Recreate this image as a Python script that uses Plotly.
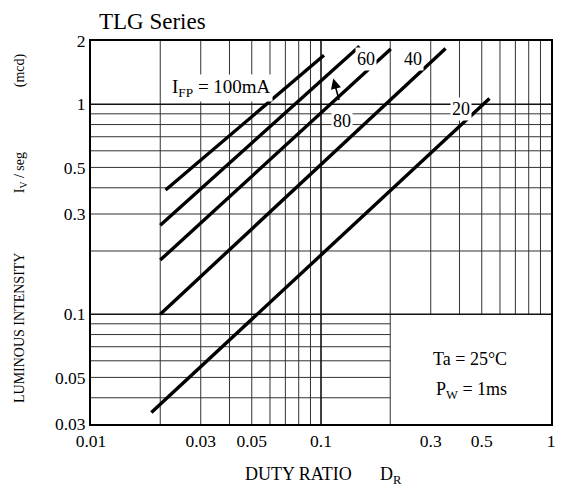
import math
import plotly.graph_objects as go

# ---------------- data ----------------
currents = ["100", "80", "60", "40", "20"]          # I_FP (mA)
duty_start = [0.0211, 0.0200, 0.0200, 0.0200, 0.0183]
duty_end = [0.103, 0.147, 0.201, 0.348, 0.540]
iv_start = [0.390, 0.265, 0.181, 0.100, 0.0340]
iv_end = [1.71, 1.89, 1.83, 1.84, 1.064]

x_tick_vals = [0.01, 0.03, 0.05, 0.1, 0.3, 0.5, 1]
x_tick_text = ["0.01", "0.03", "0.05", "0.1", "0.3", "0.5", "1"]
y_tick_vals = [0.03, 0.05, 0.1, 0.3, 0.5, 1, 2]
y_tick_text = ["0.03", "0.05", "0.1", "0.3", "0.5", "1", "2"]

# grid definition
x_grid_full = [0.02, 0.03, 0.04, 0.05, 0.06, 0.07, 0.08, 0.09, 0.2]
x_grid_upper = [0.3, 0.4, 0.5, 0.6, 0.7, 0.8, 0.9]
x_grid_major = [0.1]
y_grid_full = [0.2, 0.3, 0.4, 0.5, 0.6, 0.7, 0.8, 0.9]
y_grid_left = [0.04, 0.05, 0.06, 0.07, 0.08, 0.09]
y_grid_major = [0.1, 1]

X_MIN, X_MAX = 0.01, 1.0
Y_MIN, Y_MAX = 0.03, 2.0

FONT = "Liberation Serif, Times New Roman, serif"


def segs_v(xs, y0, y1):
    px, py = [], []
    for v in xs:
        px += [v, v, None]
        py += [y0, y1, None]
    return px, py


def segs_h(ys, x0, x1):
    px, py = [], []
    for v in ys:
        px += [x0, x1, None]
        py += [v, v, None]
    return px, py


fig = go.Figure()

grid_minor = [
    segs_v(x_grid_full, Y_MIN, Y_MAX),
    segs_v(x_grid_upper, 0.1, Y_MAX),
    segs_h(y_grid_full, X_MIN, X_MAX),
    segs_h(y_grid_left, X_MIN, 0.2),
]
gx, gy = [], []
for a, b in grid_minor:
    gx += a
    gy += b
fig.add_trace(go.Scatter(x=gx, y=gy, mode="lines",
                         line=dict(color="#333333", width=1),
                         hoverinfo="skip", showlegend=False))

mx, my = [], []
for a, b in [segs_v(x_grid_major, Y_MIN, Y_MAX), segs_h(y_grid_major, X_MIN, X_MAX)]:
    mx += a
    my += b
fig.add_trace(go.Scatter(x=mx, y=my, mode="lines",
                         line=dict(color="#111111", width=1.6),
                         hoverinfo="skip", showlegend=False))

for name, xs, xe, ys, ye in zip(currents, duty_start, duty_end, iv_start, iv_end):
    fig.add_trace(go.Scatter(x=[xs, xe], y=[ys, ye], mode="lines",
                             name=name + " mA",
                             line=dict(color="black", width=3.4),
                             hoverinfo="skip", showlegend=False))

L = math.log10


def ann(text, x, y, size=18, **kw):
    d = dict(text=text, x=L(x), y=L(y), xref="x", yref="y", showarrow=False,
             font=dict(family=FONT, size=size, color="black"),
             bgcolor="white", borderpad=1)
    d.update(kw)
    fig.add_annotation(**d)


ann("I<sub>FP</sub> = 100mA", 0.0371, 1.19, size=19)
ann("60", 0.157, 1.647)
ann("40", 0.250, 1.647)
ann("20", 0.406, 0.952)
ann("80", 0.124, 0.834)
ann("Ta = 25°C", 0.4444, 0.0614, size=18, bgcolor="rgba(0,0,0,0)")
ann("P<sub>W</sub> = 1ms", 0.4534, 0.0432, size=18, bgcolor="rgba(0,0,0,0)")

# arrow pointing from the "80" label toward the 80 mA curve
fig.add_annotation(x=L(0.1131), y=L(1.326), xref="x", yref="y", text=" ",
                   showarrow=True, ax=8, ay=30, axref="pixel", ayref="pixel",
                   arrowhead=2, arrowsize=1.3, arrowwidth=1.6, arrowcolor="black")

# title
fig.add_annotation(text="TLG Series", x=0.013, y=1.052, xref="paper", yref="paper",
                   xanchor="left", yanchor="middle", showarrow=False,
                   font=dict(family=FONT, size=23, color="black"))

# y axis title pieces (rotated)
for txt, yy in [("LUMINOUS INTENSITY", 0.251), ("I<sub>V</sub> / seg", 0.655), ("(mcd)", 0.924)]:
    fig.add_annotation(text=txt, x=-0.154, y=yy, xref="paper", yref="paper",
                       xanchor="center", yanchor="middle", textangle=-90, showarrow=False,
                       font=dict(family=FONT, size=14, color="black"))

# x axis title pieces
fig.add_annotation(text="DUTY RATIO", x=0.452, y=-0.1005, xref="paper", yref="paper",
                   xanchor="center", yanchor="top", showarrow=False,
                   font=dict(family=FONT, size=18, color="black"))
fig.add_annotation(text="D<sub>R</sub>", x=0.624, y=-0.1005, xref="paper", yref="paper",
                   xanchor="left", yanchor="top", showarrow=False,
                   font=dict(family=FONT, size=18, color="black"))

axis_common = dict(showgrid=False, zeroline=False, showline=True, mirror=True,
                   linecolor="black", linewidth=2, ticks="", automargin=False,
                   tickfont=dict(family=FONT, size=17.5, color="black"))

fig.update_xaxes(type="log", range=[L(X_MIN), L(X_MAX)],
                 tickvals=x_tick_vals, ticktext=x_tick_text, **axis_common)
fig.update_yaxes(type="log", range=[L(Y_MIN), L(Y_MAX)],
                 tickvals=y_tick_vals, ticktext=y_tick_text, **axis_common)

fig.update_layout(template="none", width=563, height=488,
                  margin=dict(l=91, r=12, t=41, b=64),
                  paper_bgcolor="white", plot_bgcolor="white",
                  hovermode=False, showlegend=False,
                  font=dict(family=FONT, color="black"))

fig.write_html("out.html", config={"responsive": False, "displayModeBar": False},
               post_script="document.body.style.margin='0';"
                           "document.body.style.overflow='hidden';")
